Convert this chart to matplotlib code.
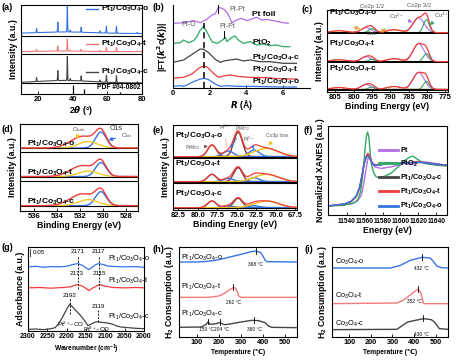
import numpy as np
import matplotlib
matplotlib.use("Agg")
import matplotlib.pyplot as plt

plt.rcParams['font.family'] = ['Liberation Sans', 'DejaVu Sans']
plt.rcParams['font.weight'] = 'bold'
plt.rcParams['axes.labelweight'] = 'bold'
plt.rcParams['mathtext.default'] = 'regular'
plt.rcParams['axes.linewidth'] = 0.8

BLUE = '#3574E3'; RED = '#F03C3C'; LRED = '#F27A7A'; GRAY = '#454545'
PURPLE = '#B06FE6'; GREEN = '#2FA865'; YELLOW = '#F2C318'; ORANGE = '#E3A43A'
BROWN = '#7A3B2E'

# ---------------- data ----------------
# (a) XRD
xrd_peaks = [19.0, 31.3, 36.8, 38.5, 44.8, 55.6, 59.4, 65.2, 77.3]
xrd_o = [4, 10, 26, 2, 5, 2, 7, 7, 1.2]
xrd_t = [2, 5, 12, 1, 2, 1, 4, 4, 0.6]
xrd_c = [4, 10, 24, 2, 5, 2, 7, 7, 1.2]
xrd_base = [60.5, 42.3, 11.0]
xrd_hump = [1.5, 0.6, 2.5]
pdf_pos = [39.8, 46.2, 67.5]
pdf_h = [9.3, 5.3, 2.3]

# (b) EXAFS
R_foil = [0, 0.58, 1.13, 1.49, 1.85, 2.13, 2.31, 2.49, 2.67, 2.85, 3.04, 3.22, 3.49, 3.76, 4.04, 4.31, 4.58, 4.85, 5.13, 5.49, 6.04, 6.31]
y_foil = [194, 196, 202, 196, 206, 219, 222, 242, 239, 234, 219, 196, 204, 209, 202, 207, 212, 204, 206, 202, 196, 194]
R_pto2 = [0, 0.40, 0.58, 0.85, 1.13, 1.31, 1.49, 1.67, 1.85, 2.13, 2.40, 2.58, 2.76, 2.85, 2.95, 3.22, 3.40, 3.58, 3.85, 4.22, 4.58, 4.95, 5.31, 5.67, 6.04, 6.40]
y_pto2 = [134, 136, 144, 136, 142, 154, 174, 184, 169, 139, 134, 139, 146, 154, 139, 152, 156, 144, 134, 139, 129, 132, 127, 129, 124, 124]
R_c = [0, 0.58, 1.13, 1.49, 1.67, 1.95, 2.31, 2.58, 2.85, 3.13, 3.49, 3.85, 4.22, 4.76, 5.31, 6.04, 6.76]
y_c = [77, 84, 104, 117, 116, 106, 86, 77, 82, 84, 87, 81, 84, 79, 79, 74, 74]
R_t = [0, 0.58, 1.04, 1.40, 1.67, 1.89, 2.22, 2.49, 2.76, 3.13, 3.67, 4.22, 5.13, 6.04, 6.76]
y_t = [29, 32, 42, 59, 66, 62, 44, 32, 36, 39, 34, 32, 31, 27, 27]
R_o = [0, 0.40, 0.58, 0.76, 1.13, 1.49, 1.71, 1.95, 2.31, 2.58, 2.95, 3.49, 4.22, 6.04, 6.76]
y_o = [5, 7, 5, 9, 19, 27, 29, 25, 12, 5, 7, 5, 5, 3, 3]

# (c) Co 2p XPS
co_bg_be = [808, 800, 797, 795, 792, 787, 784, 782, 780, 778, 774]
co_bg_step = [11, 10.5, 9.8, 9, 8, 7, 5.5, 4, 2, 0.6, 0]
co_offsets = [59.3, 30.3, 2.5]
co_centers = [782.3, 780.2, 789.0, 796.6, 795.0, 804.0]
co_widths = [3.6, 1.9, 4.5, 3.2, 2.2, 5.0]
co_h_o = [15, 13, 3, 5, 4, 2]
co_h_t = [18, 8, 3, 5, 2.5, 2]
co_h_c = [17, 8, 3, 5, 2.5, 2]

# (d) O 1s XPS
o_centers = [530.2, 531.3, 532.2]
o_widths = [1.1, 2.0, 2.2]
o_h = [[16, 6.5, 7], [14, 5.5, 7], [14, 6, 7.5]]
o_base = [62.7, 34.3, 5.3]
o_seps = [58.7, 30.3]

# (e) Pt 4f XPS
pt_centers = [78.2, 74.85, 76.1, 72.8, 71.2]
pt_widths = [1.3, 1.3, 1.6, 1.6, 3.6]
pt_h = [[11.7, 24.4, 5.7, 6.7, 8.4], [7.4, 14, 3.3, 4, 7.4], [6.7, 9.4, 2, 2, 6.7]]
pt_base = [53.3, 28.3, 2.3]
pt_seps = [51.7, 26.7]

# (f) XANES
E_pt = [11518.6, 11544.9, 11552.4, 11556.2, 11559.1, 11561.4, 11563.6, 11565.1, 11567.4, 11571.1, 11578.6, 11589.9, 11597.4, 11604.9, 11612.4, 11619.9, 11627.4, 11640, 11652]
mu_pt = [0, 0.05, 0.13, 0.27, 0.55, 0.88, 1.16, 1.19, 1.08, 0.96, 0.92, 0.96, 1.0, 1.04, 1.02, 1.06, 1.08, 1.04, 1.0]
E_pto2 = [11518.6, 11537.4, 11548.6, 11552.4, 11555.4, 11557.2, 11559.1, 11560.6, 11562.1, 11563.2, 11564.7, 11566.2, 11568.1, 11570.4, 11573.0, 11576.7, 11582.4, 11589.9, 11597.4, 11604.9, 11610.5, 11614.2, 11618.0, 11623.6, 11627.4, 11640, 11652]
mu_pto2 = [0, 0.02, 0.08, 0.16, 0.35, 0.63, 1.04, 1.45, 1.73, 1.81, 1.69, 1.28, 0.96, 0.80, 0.71, 0.70, 0.73, 0.81, 0.96, 1.12, 1.20, 1.22, 1.16, 1.08, 1.04, 1.0, 0.98]
E_s = [11518.6, 11537.4, 11544.9, 11550.5, 11554.2, 11556.9, 11559.1, 11561.4, 11563.6, 11565.9, 11568.1, 11571.1, 11576.7, 11582.4, 11589.9, 11597.4, 11608.6, 11619.9, 11627.4, 11640, 11652]
mu_c = [0, 0.05, 0.11, 0.23, 0.43, 0.72, 1.00, 1.19, 1.28, 1.19, 1.06, 1.00, 1.00, 1.04, 1.06, 1.04, 1.06, 1.08, 1.06, 1.02, 1.0]
mu_t = [0, 0.05, 0.11, 0.23, 0.43, 0.72, 1.00, 1.20, 1.29, 1.20, 1.07, 1.01, 1.00, 1.04, 1.06, 1.04, 1.06, 1.08, 1.06, 1.02, 1.0]
mu_o = [0, 0.05, 0.12, 0.25, 0.46, 0.75, 1.02, 1.17, 1.23, 1.16, 1.05, 1.00, 1.00, 1.03, 1.05, 1.04, 1.06, 1.07, 1.06, 1.02, 1.0]

# (g) CO-DRIFTS
wn_o = [2300, 2280, 2260, 2240, 2220, 2200, 2185, 2171, 2160, 2150, 2142, 2135, 2125, 2117, 2105, 2090, 2070, 2050, 2030, 2000]
ab_o = [193, 195, 192, 194, 193, 195, 200, 203, 198, 190, 185, 191, 200, 203, 200, 195, 194, 193, 194, 192]
wn_t = [2300, 2270, 2240, 2210, 2190, 2173, 2160, 2150, 2142, 2132, 2115, 2100, 2080, 2050, 2020, 2000]
ab_t = [130, 131, 129, 131, 133, 140, 136, 128, 122, 130, 140, 135, 131, 130, 131, 130]
wn_c = [2300, 2280, 2260, 2240, 2230, 2220, 2210, 2200, 2192, 2185, 2175, 2165, 2155, 2145, 2138, 2128, 2119, 2110, 2100, 2090, 2080, 2070, 2060, 2040, 2020, 2000]
ab_c = [5, 6, 4, 7, 10, 23, 43, 66, 81, 73, 60, 48, 33, 16, 20, 26, 28, 26, 25, 23, 20, 15, 12, 10, 8, 7]

# (h) H2-TPR Pt1/Co3O4
Th_o = [17, 100, 150, 200, 250, 300, 340, 368, 390, 400, 410, 420, 555]
Hh_o = [225, 225, 227, 232, 240, 248, 255, 258, 253, 243, 230, 226, 225]
Th_t = [17, 150, 200, 230, 250, 265, 275, 282, 290, 300, 555]
Hh_t = [119, 119, 123, 133, 143, 148, 147, 137, 123, 119, 119]
Th_c = [17, 120, 140, 150, 160, 180, 204, 225, 250, 300, 350, 380, 410, 425, 440, 555]
Hh_c = [29, 30, 37, 45, 38, 39, 43, 37, 39, 45, 50, 49, 43, 33, 29, 28]

# (i) H2-TPR Co3O4
Ti_o = [20, 291, 337, 382, 436, 474, 489, 505, 527, 555]
Hi_o = [207, 207, 215, 230, 239, 237, 227, 213, 208, 207]
Ti_t = [20, 320, 350, 380, 403, 418, 429, 438, 444, 557]
Hi_t = [100, 102, 110, 125, 137, 143, 135, 115, 100, 100]
Ti_c = [20, 320, 370, 443, 480, 494, 517, 557]
Hi_c = [22, 23, 45, 55, 52, 45, 25, 23]


def gauss(x, c, h, w):
    return h * np.exp(-4 * np.log(2) * ((x - c) / w) ** 2)


def lab(s):
    return "Pt$_1$/Co$_3$O$_4$-" + s


W, H = 459, 360
fig = plt.figure(figsize=(W / 100, H / 100), dpi=100)


def axpx(l, t, r, b):
    return fig.add_axes([l / W, 1 - b / H, (r - l) / W, (b - t) / H])


def style(ax, fs=5.5):
    ax.tick_params(direction='in', length=2, width=0.6, labelsize=fs, pad=1.5)
    ax.set_yticks([])
    for lbl in ax.get_xticklabels():
        lbl.set_fontweight('bold')


LFS = 6.3   # axis label size
SFS = 6.0   # sample label size

# ---------------- (a) ----------------
ax = axpx(21, 5, 142, 94)
x = np.linspace(10, 80, 2000)
for hs, base, hump, col in zip([xrd_o, xrd_t, xrd_c], xrd_base, xrd_hump, [BLUE, LRED, GRAY]):
    y = base + hump * np.exp(-((x - 35) / 22) ** 2)
    for p, h in zip(xrd_peaks, hs):
        y = y + gauss(x, p, h, 0.35)
    ax.plot(x, y, color=col, lw=0.8)
for s in [58, 39.7, 10.7]:
    ax.axhline(s, color='k', lw=0.8)
ax.vlines(pdf_pos, 0, pdf_h, color='k', lw=0.9)
ax.text(79, 6.5, "PDF #04-0802", ha='right', va='center', fontsize=4.8)
for yy, col, s in [(84.7, BLUE, 'o'), (50, LRED, 't'), (22.3, GRAY, 'c')]:
    ax.plot([47.6, 54.5], [yy, yy], color=col, lw=1)
    ax.text(56.2, yy, lab(s), va='center', fontsize=SFS, clip_on=False)
ax.set_xlim(10, 80)
ax.set_ylim(0, 89)
ax.set_xticks([20, 40, 60, 80])
style(ax)
ax.set_xlabel(r"2$\it{\theta}$ (°)", fontsize=LFS, labelpad=1)
ax.set_ylabel("Intensity (a.u.)", fontsize=LFS, labelpad=2)

# ---------------- (b) ----------------
ax = axpx(173, 5, 310, 88)
ax.plot(R_foil, y_foil, color=PURPLE, lw=0.9)
ax.plot(R_pto2, y_pto2, color=GREEN, lw=0.9)
ax.plot(R_c, y_c, color=GRAY, lw=0.9)
ax.plot(R_t, y_t, color=RED, lw=0.9)
ax.plot(R_o, y_o, color=BLUE, lw=0.9)
ax.plot([1.67, 1.67], [0, 194], color='k', lw=1.1, ls=(0, (4, 2.5)))
ax.plot([2.49, 2.49], [226, 248], color='k', lw=0.7)
ax.plot([2.78, 2.78], [150, 170], color='k', lw=0.7)
ax.text(0.85, 192, "Pt-O", fontsize=5, color='#555555', weight='normal', ha='center', va='center')
ax.text(3.5, 236, "Pt-Pt", fontsize=5, color='#555555', weight='normal', ha='center', va='center')
ax.text(2.98, 186, "Pt-Pt", fontsize=5, color='#555555', weight='normal', ha='center', va='center')
for yy, s in [(222, "Pt foil"), (136, "PtO$_2$"), (89, lab('c')), (54, lab('t')), (19, lab('o'))]:
    ax.text(4.3, yy, s, fontsize=SFS, va='center', clip_on=False)
ax.set_xlim(0, 7.5)
ax.set_ylim(0, 249)
ax.set_xticks([0, 2, 4, 6])
ax.spines['top'].set_visible(False)
ax.spines['right'].set_visible(False)
style(ax)
ax.set_xlabel(r"$\it{R}$ (Å)", fontsize=LFS, labelpad=1)
ax.set_ylabel(r"|FT($\it{k}^2$c($\it{k}$))|", fontsize=LFS, labelpad=2)

# ---------------- (c) ----------------
ax = axpx(327, 10, 448, 92)
x = np.linspace(774.3, 807.3, 800)
bg_shape = np.interp(x, co_bg_be, co_bg_step)
comp_cols = [PURPLE, GREEN, ORANGE, PURPLE, GREEN, ORANGE]
for hs, off in zip([co_h_o, co_h_t, co_h_c], co_offsets):
    bg = off + bg_shape
    env = bg.copy()
    for c, w, h, col in zip(co_centers, co_widths, hs, comp_cols):
        g = gauss(x, c, h, w)
        env = env + g
        ax.plot(x, bg + g, color=col, lw=0.8)
    ax.plot(x, bg, color='k', lw=1.4)
    ax.plot(x, env, color=RED, lw=0.9)
for yy, s in [(78.7, 'o'), (48, 't'), (22.7, 'c')]:
    ax.text(806.8, yy, lab(s), fontsize=SFS, va='center')
ax.text(795, 85.5, "Co2p 1/2", fontsize=4.3, color='#555555', weight='normal', ha='center', va='center', clip_on=False)
ax.text(782.3, 87, "Co2p 3/2", fontsize=4.3, color='#555555', weight='normal', ha='center', va='center', clip_on=False)
ax.annotate("Co$^{2+}$", xy=(783.3, 68.7), xytext=(788.2, 76), fontsize=4.3, color='#555555', weight='normal',
            ha='center', va='center', arrowprops=dict(arrowstyle='-|>', color=PURPLE, lw=0.8, mutation_scale=5))
ax.annotate("Co$^{3+}$", xy=(779.3, 67), xytext=(776.0, 76.5), fontsize=4.3, color='#555555', weight='normal',
            ha='center', va='center', arrowprops=dict(arrowstyle='-|>', color=GREEN, lw=0.8, mutation_scale=5))
ax.annotate("Sat.", xy=(800.9, 66), xytext=(795, 58.7), fontsize=4.3, color='#555555', weight='normal',
            ha='center', va='center', arrowprops=dict(arrowstyle='-|>', color=ORANGE, lw=0.9, mutation_scale=5))
ax.annotate("", xy=(790.5, 64.7), xytext=(793.3, 59), arrowprops=dict(arrowstyle='-|>', color=ORANGE, lw=0.9, mutation_scale=5))
ax.set_xlim(807.3, 774.3)
ax.set_ylim(0, 82)
ax.set_xticks([805, 800, 795, 790, 785, 780, 775])
style(ax)
ax.set_xlabel("Binding Energy (eV)", fontsize=LFS, labelpad=1)
ax.set_ylabel("Intensity (a.u.)", fontsize=LFS, labelpad=2)

# ---------------- (d) ----------------
ax = axpx(20, 124, 138, 211)
x = np.linspace(527, 537.2, 600)
for hs, base in zip(o_h, o_base):
    env = np.full_like(x, base)
    for i, (c, w, h) in enumerate(zip(o_centers, o_widths, hs)):
        g = gauss(x, c, h, w)
        env = env + g
        if i == 0:
            ax.plot(x, base + g, color=BLUE, lw=1.0)
        elif i == 1:
            ax.plot(x, base + g, color=YELLOW, lw=0.9)
    ax.axhline(base, color='k', lw=0.8)
    ax.plot(x, env, color=RED, lw=1.0)
for s in o_seps:
    ax.axhline(s, color='k', lw=0.8)
for yy, s in [(66.7, 'o'), (37.7, 't'), (8.7, 'c')]:
    ax.text(536.6, yy, lab(s), fontsize=SFS, va='center')
ax.annotate("O$_{ads}$", xy=(532.3, 71.5), xytext=(532.1, 81), fontsize=4.5, color='#555555', weight='normal',
            ha='center', va='center', arrowprops=dict(arrowstyle='-|>', color=YELLOW, lw=0.9, mutation_scale=5))
ax.text(528.9, 82.7, "O1s", fontsize=5, color='#333333', weight='normal', ha='center', va='center')
ax.annotate("O$_{lat}$", xy=(529.8, 70), xytext=(528.0, 71), fontsize=4.5, color='#555555', weight='normal',
            ha='center', va='bottom', arrowprops=dict(arrowstyle='-|>', color=BLUE, lw=0.9, mutation_scale=5))
ax.set_xlim(537.2, 527)
ax.set_ylim(0, 86.7)
ax.set_xticks([536, 534, 532, 530, 528])
style(ax)
ax.set_xlabel("Binding Energy (eV)", fontsize=LFS, labelpad=1)
ax.set_ylabel("Intensity (a.u.)", fontsize=LFS, labelpad=2)

# ---------------- (e) ----------------
ax = axpx(173, 125, 297, 210)
x = np.linspace(67.3, 83.2, 800)
pt_cols = [BROWN, BROWN, BLUE, BLUE, YELLOW]
for hs, base in zip(pt_h, pt_base):
    env = np.full_like(x, base)
    for c, w, h, col in zip(pt_centers, pt_widths, hs, pt_cols):
        g = gauss(x, c, h, w)
        env = env + g
        ax.plot(x, base + g, color=col, lw=1.0)
    ax.axhline(base, color='k', lw=0.8)
    ax.plot(x, env, color=RED, lw=0.9)
for s in pt_seps:
    ax.axhline(s, color='k', lw=0.8)
for yy, s in [(74.3, 'o'), (45.7, 't'), (15.7, 'c')]:
    ax.text(83.0, yy, lab(s), fontsize=SFS, va='center')
ann = dict(fontsize=3.6, color='#555555', weight='normal', ha='center', va='center')
ax.annotate("Pt4f$_{5/2}$", xy=(78.4, 64), xytext=(80.6, 62.3),
            arrowprops=dict(arrowstyle='-|>', color=BROWN, lw=0.6, mutation_scale=4), **ann)
ax.annotate("Pt$^{4+}$", xy=(76.3, 60), xytext=(76.6, 82.3),
            arrowprops=dict(arrowstyle='-', color=LRED, lw=0.4), **ann)
ax.annotate("Pt4f$_{7/2}$", xy=(76.0, 59.5), xytext=(74.3, 81.5),
            arrowprops=dict(arrowstyle='-|>', color=BLUE, lw=0.6, mutation_scale=4), **ann)
ax.annotate("Pt$^{2+}$", xy=(72.8, 61), xytext=(73.5, 71),
            arrowprops=dict(arrowstyle='-|>', color=BLUE, lw=0.6, mutation_scale=4), **ann)
ax.annotate("Co3p loss", xy=(71.2, 62.5), xytext=(69.8, 75),
            arrowprops=dict(arrowstyle='-|>', color=YELLOW, lw=0.8, mutation_scale=5), **ann)
ax.set_xlim(83.2, 67.3)
ax.set_ylim(0, 85)
ax.set_xticks([82.5, 80.0, 77.5, 75.0, 72.5, 70.0, 67.5])
ax.set_xticklabels(["82.5", "80.0", "77.5", "75.0", "72.5", "70.0", "67.5"])
style(ax)
ax.set_xlabel("Binding Energy (eV)", fontsize=LFS, labelpad=1)
ax.set_ylabel("Intensity (a.u.)", fontsize=LFS, labelpad=2)

# ---------------- (f) ----------------
ax = axpx(328, 126, 447, 215)
ax.plot(E_pt, mu_pt, color=PURPLE, lw=1.0, label="Pt")
ax.plot(E_pto2, mu_pto2, color=GREEN, lw=1.0, label="PtO$_2$")
ax.plot(E_s, mu_c, color=GRAY, lw=1.0, label=lab('c'))
ax.plot(E_s, mu_t, color=RED, lw=1.0, label=lab('t'))
ax.plot(E_s, mu_o, color=BLUE, lw=1.0, label=lab('o'))
leg = ax.legend(loc='lower right', fontsize=5.3, frameon=False, handlelength=2.6, handletextpad=0.3,
                labelspacing=0.55, borderaxespad=0.1)
for h in leg.legend_handles:
    h.set_linewidth(2.0)
ax.set_xlim(11519, 11652)
ax.set_ylim(-0.22, 1.96)
ax.set_xticks([11540, 11560, 11580, 11600, 11620, 11640])
style(ax, fs=4.8)
ax.tick_params(axis='x', pad=2)
ax.set_xlabel("Energy (eV)", fontsize=LFS, labelpad=1)
ax.set_ylabel("Normalized XANES (a.u.)", fontsize=LFS, labelpad=2)

# ---------------- (g) ----------------
ax = axpx(28, 247, 144, 331)
ax.plot(wn_o, ab_o, color=BLUE, lw=0.9)
ax.plot(wn_t, ab_t, color=RED, lw=0.9)
ax.plot(wn_c, ab_c, color=GRAY, lw=0.9)
dash = dict(color='k', lw=0.6, ls=(0, (2.5, 1.5)))
ax.plot([2171, 2171], [125, 225], **dash)
ax.plot([2117, 2117], [125, 225], **dash)
ax.plot([2192, 2192], [50, 98], **dash)
ax.plot([2119, 2119], [28, 65], **dash)
nfs = dict(fontsize=4.5, weight='normal', ha='center', va='center')
ax.text(2171, 240, "2171", **nfs)
ax.text(2117, 240, "2117", **nfs)
ax.text(2173, 173, "2173", **nfs)
ax.text(2115, 173, "2115", **nfs)
ax.text(2193, 108, "2192", **nfs)
ax.text(2119, 75, "2119", **nfs)
ax.text(2190, 20, "Pt$^{2+}$–CO", **nfs)
ax.text(2122, 6, "Pt$^{\\delta+}$–CO", **nfs)
ax.plot([2294, 2294], [225, 248], color='#555555', lw=0.8)
ax.text(2287, 236, "0.05", fontsize=4.5, weight='normal', va='center')
for yy, s in [(216, 'o'), (150, 't'), (43, 'c')]:
    ax.text(2094, yy, lab(s), fontsize=5.3, weight='normal', va='center')
ax.set_xlim(2300, 2000)
ax.set_ylim(0, 253)
ax.set_xticks([2300, 2250, 2200, 2150, 2100, 2050, 2000])
style(ax, fs=5.0)
ax.set_xlabel("Wavenumber (cm$^{-1}$)", fontsize=4.8, labelpad=2)
ax.set_ylabel("Adsorbance (a.u.)", fontsize=LFS, labelpad=2)

# ---------------- (h) ----------------
ax = axpx(179, 247, 297, 337)
ax.plot(Th_o, Hh_o, color=BLUE, lw=1.0)
ax.plot(Th_t, Hh_t, color=LRED, lw=1.0)
ax.plot(Th_c, Hh_c, color=GRAY, lw=1.0)
tfs = dict(fontsize=3.5, weight='normal', ha='center', va='center')
for T, y0, y1 in [(368, 250, 268), (262, 142, 160), (150, 38, 55), (204, 36, 53), (360, 43, 60)]:
    ax.plot([T, T], [y0, y1], color='k', lw=0.6)
ax.text(368, 217, "368 °C", **tfs)
ax.text(265, 105, "262 °C", **tfs)
ax.text(143, 22, "150 °C", **tfs)
ax.text(213, 22, "204 °C", **tfs)
ax.text(360, 22, "360 °C", **tfs)
for yy, s in [(237, 'o'), (150, 't'), (68, 'c')]:
    ax.text(28, yy, lab(s), fontsize=5.3, weight='normal', va='center')
ax.set_xlim(18, 555)
ax.set_ylim(0, 270)
ax.set_xticks([100, 200, 300, 400, 500])
style(ax, fs=5.3)
ax.set_xlabel("Temperature (℃)", fontsize=4.8, labelpad=2)
ax.set_ylabel("H$_2$ Consumption (a.u.)", fontsize=LFS, labelpad=2)

# ---------------- (i) ----------------
ax = axpx(332, 247, 448, 337)
ax.plot(Ti_o, Hi_o, color=BLUE, lw=1.0)
ax.plot(Ti_t, Hi_t, color=LRED, lw=1.0)
ax.plot(Ti_c, Hi_c, color=GRAY, lw=1.0)
for T, y0, y1 in [(436, 230, 248), (418, 135, 152), (443, 48, 65)]:
    ax.plot([T, T], [y0, y1], color='k', lw=0.6)
ax.text(436, 205, "432 °C", **tfs)
ax.text(400, 107, "352 °C", **tfs)
ax.text(436, 8, "430 °C", **tfs)
for yy, s in [(225, 'o'), (123, 't'), (40, 'c')]:
    ax.text(35, yy, "Co$_3$O$_4$-" + s, fontsize=5.3, weight='normal', va='center')
ax.set_xlim(20, 557)
ax.set_ylim(0, 270)
ax.set_xticks([100, 200, 300, 400, 500])
style(ax, fs=5.3)
ax.set_xlabel("Temperature (℃)", fontsize=4.8, labelpad=2)
ax.set_ylabel("H$_2$ Consumption (a.u.)", fontsize=LFS, labelpad=2)

# panel letters
for (px, py, s) in [(7, 8, "(a)"), (158, 7, "(b)"), (307, 10, "(c)"), (7, 129, "(d)"), (158, 130, "(e)"),
                    (308, 130, "(f)"), (7, 248, "(g)"), (158, 249, "(h)"), (309, 249, "(i)")]:
    fig.text(px / W, 1 - py / H, s, fontsize=6.5, weight='bold', ha='center', va='center')

fig.savefig("out.png", dpi=100)
